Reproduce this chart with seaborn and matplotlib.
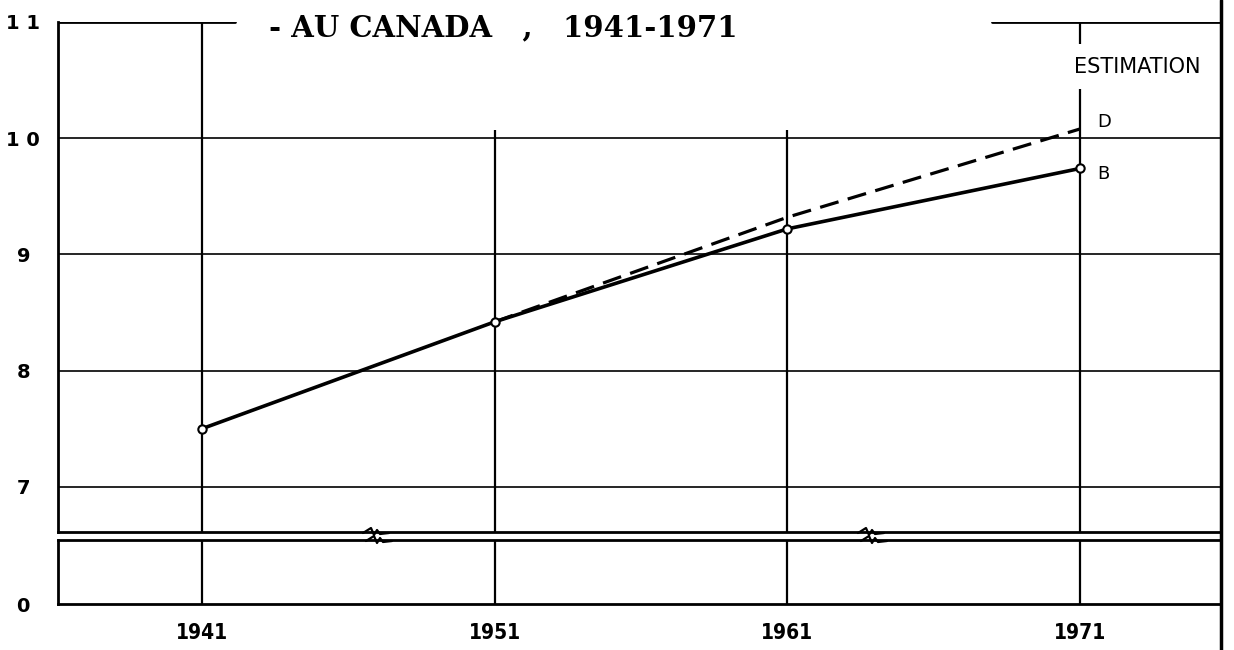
"""Courbes B et D au Canada, 1941-1971, avec estimation pour 1971."""

import pandas as pd
import matplotlib
matplotlib.use("Agg")
import matplotlib.pyplot as plt
from matplotlib.lines import Line2D
import seaborn as sns

# Données
years = [1941, 1951, 1961, 1971]
serie_b = [7.50, 8.42, 9.22, 9.74]
years_d = [1951, 1961, 1971]
serie_d = [8.42, 9.32, 10.08]
y_ticks = [7, 8, 9, 10, 11]
y_labels = ['7', '8', '9', '1 0', '1 1']
x_labels = ['1941', '1951', '1961', '1971']
title = "- AU CANADA   ,   1941-1971"

W, H = 1234, 650


def fx(px):
    return px / W


def fy(py):
    return 1 - py / H


def draw_break(fig, px):
    """Petits zigzags de coupure d'axe (coordonnées en pixels)."""
    for dx, y0 in ((0, 533), (3, 541)):
        xs = [px - 12 + dx, px - 4 + dx, px - 1 + dx, px + 2 + dx, px + 5 + dx, px + 14 + dx]
        ys = [y0, y0 - 5, y0 + 2, y0 - 3, y0 + 1, y0]
        fig.add_artist(Line2D([fx(x) for x in xs], [fy(y) for y in ys],
                              color='black', lw=1.6))


sns.set_style("white")
plt.rcParams['font.family'] = ['DejaVu Sans']
plt.rcParams['text.color'] = 'black'
plt.rcParams['xtick.color'] = 'black'
plt.rcParams['ytick.color'] = 'black'

fig, (ax, ax0) = plt.subplots(
    2, 1, figsize=(12.34, 6.5), dpi=100, sharex=True,
    gridspec_kw={'height_ratios': [511, 64]})
fig.subplots_adjust(left=fx(58), right=fx(1221), top=fy(22), bottom=fy(604),
                    hspace=8 / 287.5)

df_b = pd.DataFrame({'annee': years, 'valeur': serie_b})
df_d = pd.DataFrame({'annee': years_d, 'valeur': serie_d})

sns.lineplot(data=df_d, x='annee', y='valeur', ax=ax, color='black',
             lw=2.3, linestyle=(0, (6, 3)), zorder=3)
sns.lineplot(data=df_b, x='annee', y='valeur', ax=ax, color='black',
             lw=2.6, marker='o', markersize=6, markerfacecolor='white',
             markeredgecolor='black', markeredgewidth=1.5, zorder=4)

ax.set_xlim(1936.08, 1975.81)
ax.set_ylim(6.61, 11)
ax0.set_ylim(0, 1)

# Quadrillage
for v in y_ticks[:-1]:
    ax.axhline(v, color='black', lw=1.2, zorder=1)
ax.axhline(11, xmin=0, xmax=0.152, color='black', lw=2, zorder=1)
ax.axhline(11, xmin=0.803, xmax=1, color='black', lw=2, zorder=1)
v_tops = [11, 10.07, 10.07, 11]
ax.vlines(years, 6.61, v_tops, color='black', lw=1.6, zorder=1)
ax0.vlines(years, 0, 1, color='black', lw=1.6, zorder=1)
for a in (ax, ax0):
    a.grid(False)
    for side in ('left', 'right', 'bottom', 'top'):
        a.spines[side].set_color('black')
        a.spines[side].set_linewidth(2)
    a.tick_params(length=0)
    a.set_xlabel('')
    a.set_ylabel('')
ax.spines['top'].set_visible(False)

ax.set_yticks(y_ticks, y_labels)
ax0.set_yticks([0], ['0'])
ax0.set_xticks(years, x_labels)
ax.set_xlim(1936.08, 1975.81)
for a in (ax, ax0):
    a.tick_params(axis='y', pad=25)
    for lab in a.get_yticklabels():
        lab.set_ha('center')
        lab.set_fontweight('bold')
        lab.set_fontsize(14)
ax0.tick_params(axis='x', pad=14)
for lab in ax0.get_xticklabels():
    lab.set_fontweight('bold')
    lab.set_fontsize(15)
    lab.set_fontstretch('condensed')

# Textes
ax.text(0.928, 0.912, 'ESTIMATION', transform=ax.transAxes, fontsize=15,
        ha='center', va='center', zorder=2,
        bbox=dict(facecolor='white', edgecolor='none', pad=9))
ax.annotate('D', xy=(years_d[-1], serie_d[-1]), xytext=(12, 5),
            textcoords='offset points', fontsize=13, va='center')
ax.annotate('B', xy=(years[-1], serie_b[-1]), xytext=(12, -4),
            textcoords='offset points', fontsize=13, va='center')
fig.text(fx(503), fy(28), title, family='DejaVu Serif', fontsize=21,
         fontweight='bold', ha='center', va='center')

draw_break(fig, 375)
draw_break(fig, 870)
fig.add_artist(Line2D([fx(1221), fx(1221)], [0, 1], color='black', lw=2.5))

plt.savefig('out.png', dpi=100)
plt.close()
